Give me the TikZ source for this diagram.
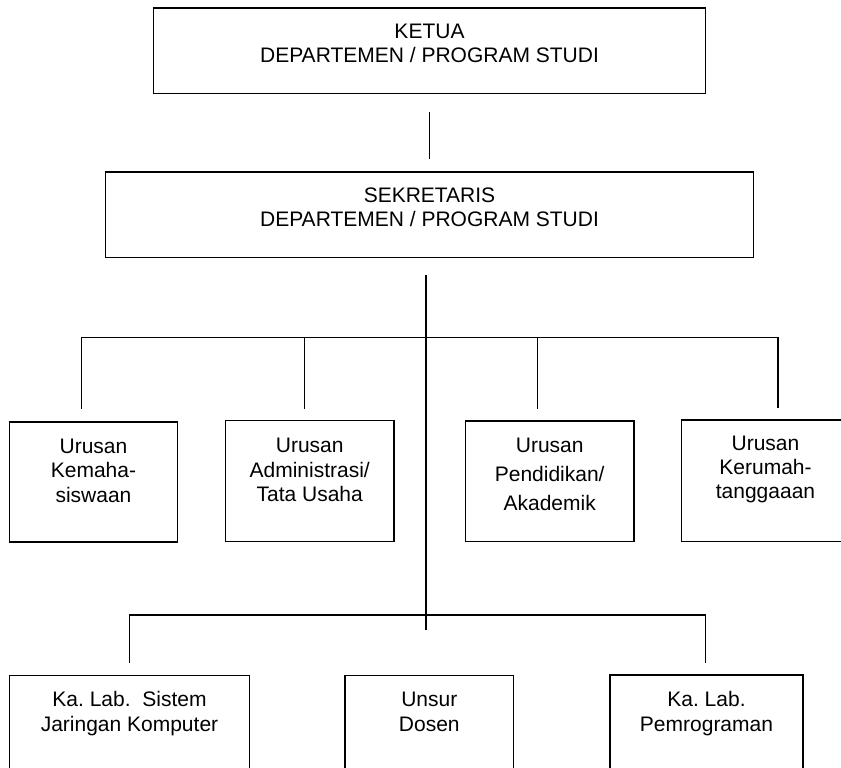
\documentclass[tikz,border=0pt]{standalone}
\usepackage{fontspec}
\setmainfont{Liberation Sans}
\usetikzlibrary{calc}
\newcommand{\lnstrut}{\rule{0pt}{17pt}}
\begin{document}
\frenchspacing
\begin{tikzpicture}[x=1pt,y=-1pt,
  box/.style={draw=black, line width=1.5pt, rectangle, inner sep=0pt},
  lbl/.style={anchor=north, align=center, inner sep=0pt, text=black, font=\fontsize{21}{24.3}\selectfont},
  conn/.style={draw=black, line width=1.2pt}]
\clip (0,0) rectangle (841,768);
\fill[white] (0,0) rectangle (841,768);
% boxes
\node[box, minimum width=552.4pt, minimum height=85.3pt] (ketua) at (429.5,50.65) {};
\node[box, minimum width=648.4pt, minimum height=85.3pt] (sek) at (429.5,214.65) {};
\node[box, minimum width=168.4pt, minimum height=120pt] (b1) at (93.5,482) {};
\node[box, minimum width=168.7pt, minimum height=120.6pt] (b2) at (309.65,481) {};
\node[box, minimum width=168.7pt, minimum height=120.3pt] (b3) at (549.65,481.15) {};
\node[box, minimum width=168.5pt, minimum height=121.3pt] (b4) at (765.55,480.65) {};
\node[box, minimum width=240.4pt, minimum height=119.3pt] (b5) at (129.5,735.35) {};
\node[box, minimum width=168.7pt, minimum height=119.3pt] (b6) at (429.35,735.35) {};
\node[box, minimum width=193pt, minimum height=120pt] (b7) at (706.5,735) {};
% texts
\node[lbl] (ketuaT) at (429.5,21.5) {\lnstrut KETUA\\DEPARTEMEN / PROGRAM STUDI};
\node[lbl] (sekT) at (429.5,185.3) {\lnstrut SEKRETARIS\\DEPARTEMEN / PROGRAM STUDI};
\node[lbl] (b1T) at (93.5,436.3) {\lnstrut Urusan\\Kemaha-\\siswaan};
\node[lbl] (b2T) at (309.7,435.7) {\lnstrut Urusan\\Administrasi/\\Tata Usaha};
\node[lbl] (b3T) at (549.7,435.7) {\lnstrut Urusan\\[4.3pt]Pendidikan/\\[4.3pt]Akademik};
\node[lbl] (b4T) at (765.5,433) {\lnstrut Urusan\\Kerumah-\\tanggaaan};
\node[lbl] (b5T) at (129.5,689.7) {\lnstrut Ka. Lab.\ \ Sistem\\Jaringan Komputer};
\node[lbl] (b6T) at (429.3,689.7) {\lnstrut Unsur\\Dosen};
\node[lbl] (b7T) at (706.5,689.7) {\lnstrut Ka. Lab.\\Pemrograman};
% connectors
\coordinate (t1) at ($(ketua.south)+(-0.2,18.4)$);
\coordinate (t2) at ($(sek.north)+(-0.2,-12)$);
\draw[conn] (t1) -- (t2);
\coordinate (m0) at ($(sek.south)+(-3.5,16.7)$);
\coordinate (m1) at (426,630);
\draw[conn] (m0) -- (m1);
\coordinate (u1) at (81.3,337.3);
\coordinate (u2) at (304.3,337.3);
\coordinate (u3) at (537.3,337.3);
\coordinate (u4) at (778,337.3);
\draw[conn] ($(u1 |- b1.north)+(0,-12.5)$) -- (u1) -- (u4) -- ($(u4 |- b4.north)+(0,-11)$);
\draw[conn] (u2) -- ($(u2 |- b2.north)+(0,-11)$);
\draw[conn] (u3) -- ($(u3 |- b3.north)+(0,-11.5)$);
\coordinate (l1) at (129.3,615);
\coordinate (l2) at (705.5,615);
\draw[conn] ($(l1 |- b5.north)+(0,-12.4)$) -- (l1) -- (l2) -- ($(l2 |- b7.north)+(0,-11.7)$);
\end{tikzpicture}
\end{document}
